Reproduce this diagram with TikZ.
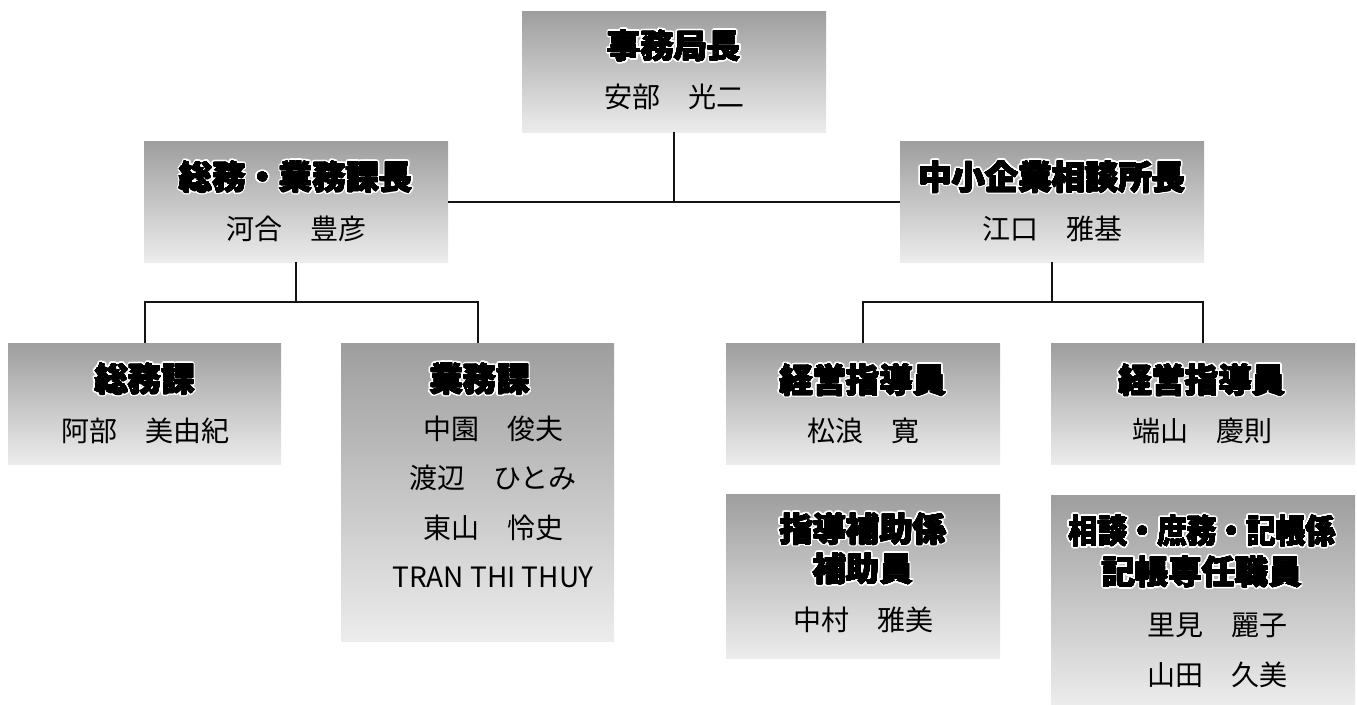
\documentclass[tikz,border=0pt]{standalone}
\usepackage{fontspec}
\usepackage{graphicx}
\usepackage[copies]{contour}
\setmainfont{Noto Sans CJK JP}
\newfontfamily\jp{Noto Sans CJK JP}
\newlength\U
\setlength\U{0.75pt}
\contournumber{20}
\definecolor{boxtop}{RGB}{158,158,158}
\definecolor{boxbot}{RGB}{236,236,236}
\definecolor{linec}{RGB}{20,20,20}
\newcommand\ttl[1]{\leavevmode\rlap{\contourlength{1.7pt}\contour{white}{#1}}{\contourlength{0.35pt}\contour{black}{#1}}}
\begin{document}
\begin{tikzpicture}[x=0.75pt,y=-0.75pt,
  orgbox/.style={rectangle, inner sep=0pt, outer sep=0pt, anchor=north west, draw=none,
    top color=boxtop, bottom color=boxbot},
  ttlsty/.style={inner sep=0pt, font=\jp\bfseries\fontsize{25}{29}\selectfont},
  nmsty/.style={inner sep=0pt, font=\jp\fontsize{21}{25}\selectfont},
  conn/.style={line width=1.5pt, draw=linec}]
\useasboundingbox (0,0) rectangle (1357,704);

% boxes
\node[orgbox, minimum width=304\U, minimum height=121\U] (top) at (522,11) {};
\node[orgbox, minimum width=304\U, minimum height=121\U] (sg) at (144,141) {};
\node[orgbox, minimum width=304\U, minimum height=121\U] (ch) at (900,141) {};
\node[orgbox, minimum width=273\U, minimum height=121\U] (somu) at (8,343) {};
\node[orgbox, minimum width=273\U, minimum height=298\U] (gyomu) at (341,343) {};
\node[orgbox, minimum width=274\U, minimum height=121\U] (kei1) at (726,343) {};
\node[orgbox, minimum width=304\U, minimum height=121\U] (kei2) at (1051,343) {};
\node[orgbox, minimum width=274\U, minimum height=164\U] (hojo) at (726,494) {};
\node[orgbox, minimum width=304\U, minimum height=209\U] (sodan) at (1051,495) {};

% connectors
\coordinate (jL) at (296,302);
\coordinate (jR) at (1052,302);
\draw[conn] (sg.east) -- (ch.west);
\draw[conn] (top.south) -- (top.south |- sg.east);
\draw[conn] (sg.south) -- (jL);
\draw[conn] (somu.north) |- (jL) -| (gyomu.north);
\draw[conn] (ch.south) -- (jR);
\draw[conn] (kei1.north) |- (jR) -| (kei2.north);

% texts
\node[ttlsty] (topT) at (674,47) {\ttl{事務局長}};
\node[nmsty] (topN) at (674,97) {安部　光二};

\node[ttlsty] (sgT) at (296,178) {\ttl{総務・業務課長}};
\node[nmsty] (sgN) at (296,229) {河合　豊彦};

\node[ttlsty] (chT) at (1052,178) {\ttl{中小企業相談所長}};
\node[nmsty] (chN) at (1052,229) {江口　雅基};

\node[ttlsty] (somuT) at (145,380) {\ttl{総務課}};
\node[nmsty] (somuN) at (145,431) {阿部　美由紀};

\node[ttlsty] (gyomuT) at (480,380) {\ttl{業務課}};
\node[nmsty] (gyomuN1) at (493,429) {中園　俊夫};
\node[nmsty] (gyomuN2) at (493,478) {渡辺　ひとみ};
\node[nmsty] (gyomuN3) at (493,528) {東山　怜史};
\node[nmsty] (gyomuN4) at (493,577) {TRAN THI THUY};

\node[ttlsty] (kei1T) at (863,381) {\ttl{経営指導員}};
\node[nmsty] (kei1N) at (863,431) {松浪　寛};

\node[ttlsty] (kei2T) at (1202,381) {\ttl{経営指導員}};
\node[nmsty] (kei2N) at (1202,431) {端山　慶則};

\node[ttlsty] (hojoT1) at (863,530) {\ttl{指導補助係}};
\node[ttlsty] (hojoT2) at (863,570) {\ttl{補助員}};
\node[nmsty] (hojoN) at (863,620) {中村　雅美};

\node[ttlsty] (sodanT1) at (1202,532) {\scalebox{0.89}[1]{\ttl{相談・庶務・記帳係}}};
\node[ttlsty] (sodanT2) at (1202,573) {\ttl{記帳専任職員}};
\node[nmsty] (sodanN1) at (1217,625) {里見　麗子};
\node[nmsty] (sodanN2) at (1217,675) {山田　久美};
\end{tikzpicture}
\end{document}
